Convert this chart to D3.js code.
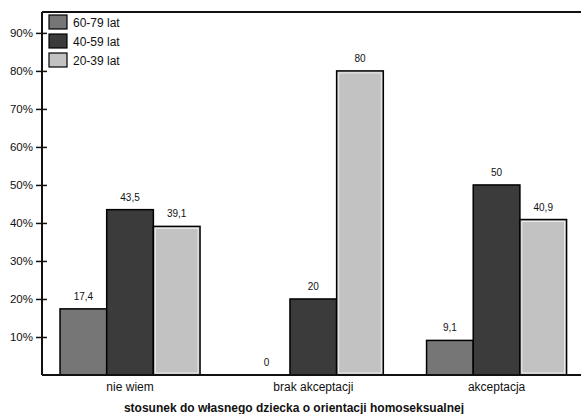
<!DOCTYPE html>
<html>
<head>
<meta charset="utf-8">
<script src="https://cdn.jsdelivr.net/npm/d3@7"></script>
<style>
  body { margin: 0; background: #fff; }
  svg { display: block; }
  text { font-family: "Liberation Sans", Arial, sans-serif; fill: #111; }
</style>
</head>
<body>
<svg id="chart" width="581" height="414"></svg>
<script>
const categories = ["nie wiem", "brak akceptacji", "akceptacja"];
const seriesNames = ["60-79 lat", "40-59 lat", "20-39 lat"];
const s6079 = [17.4, 0, 9.1];
const s4059 = [43.5, 20, 50];
const s2039 = [39.1, 80, 40.9];
const labels6079 = ["17,4", "0", "9,1"];
const labels4059 = ["43,5", "20", "50"];
const labels2039 = ["39,1", "80", "40,9"];
const yTicks = [10, 20, 30, 40, 50, 60, 70, 80, 90];
const axisTitle = "stosunek do własnego dziecka o orientacji homoseksualnej";

const colors = ["#767676", "#3b3b3b", "#c2c2c2"];
const seriesValues = [s6079, s4059, s2039];
const seriesLabels = [labels6079, labels4059, labels2039];

const svg = d3.select("#chart");
const mLeft = 42, mTop = 12, mBottom = 375, mRight = 600;

const y = d3.scaleLinear().domain([0, 95.5]).range([mBottom, mTop]);
const x0 = d3.scaleBand().domain(categories).range([38.4, 588.2]).paddingInner(0.236).paddingOuter(0.118);
const x1 = d3.scaleBand().domain(seriesNames).range([0, x0.bandwidth()]);

// bars
categories.forEach((c, ci) => {
  seriesNames.forEach((s, si) => {
    const v = seriesValues[si][ci];
    const bx = x0(c) + x1(s);
    const bw = x1.bandwidth();
    if (v > 0) {
      svg.append("rect")
        .attr("x", bx).attr("y", y(v))
        .attr("width", bw).attr("height", y(0) - y(v))
        .attr("fill", colors[si]).attr("stroke", "#000").attr("stroke-width", 1.5);
      if (si === 2) {
        svg.append("rect")
          .attr("x", bx + 2).attr("y", y(v) + 2)
          .attr("width", bw - 4).attr("height", y(0) - y(v) - 4)
          .attr("fill", "none").attr("stroke", "#ececec").attr("stroke-width", 1);
      }
    }
    svg.append("text")
      .attr("x", bx + bw / 2).attr("y", y(v) - 9)
      .attr("text-anchor", "middle")
      .attr("font-size", 10)
      .text(seriesLabels[si][ci]);
  });
});

// frame / axes
svg.append("line").attr("x1", mLeft).attr("x2", mRight).attr("y1", mTop).attr("y2", mTop)
  .attr("stroke", "#111").attr("stroke-width", 2);
svg.append("line").attr("x1", mLeft).attr("x2", mRight).attr("y1", mBottom).attr("y2", mBottom)
  .attr("stroke", "#111").attr("stroke-width", 2);

const yAxis = d3.axisLeft(y).tickValues(yTicks).tickSize(0).tickFormat(d => d + "%");
const ya = svg.append("g").attr("transform", `translate(${mLeft},0)`).call(yAxis);
ya.select(".domain").attr("d", `M0,${mTop}V${mBottom}`).attr("stroke", "#111").attr("stroke-width", 2);
ya.selectAll(".tick line").attr("x1", -6).attr("x2", 5).attr("stroke", "#111").attr("stroke-width", 1.5);
ya.selectAll(".tick text").attr("x", -9).attr("font-size", 11.5)
  .attr("font-family", "'Liberation Sans', Arial, sans-serif").attr("fill", "#111");

const xAxis = d3.axisBottom(x0).tickSize(0).tickPadding(7);
const xa = svg.append("g").attr("transform", `translate(0,${mBottom})`).call(xAxis);
xa.select(".domain").remove();
xa.selectAll(".tick text").attr("font-size", 12)
  .attr("font-family", "'Liberation Sans', Arial, sans-serif").attr("fill", "#111");

svg.append("text").attr("x", 294).attr("y", 412)
  .attr("text-anchor", "middle").attr("font-size", 12).attr("font-weight", "bold")
  .text(axisTitle);

// legend
seriesNames.forEach((s, i) => {
  const ly = 15 + i * 19;
  svg.append("rect").attr("x", 49).attr("y", ly).attr("width", 18).attr("height", 14)
    .attr("fill", colors[i]).attr("stroke", "#000").attr("stroke-width", 1.2);
  svg.append("text").attr("x", 73).attr("y", ly + 11.5).attr("font-size", 12).text(s);
});
</script>
</body>
</html>
